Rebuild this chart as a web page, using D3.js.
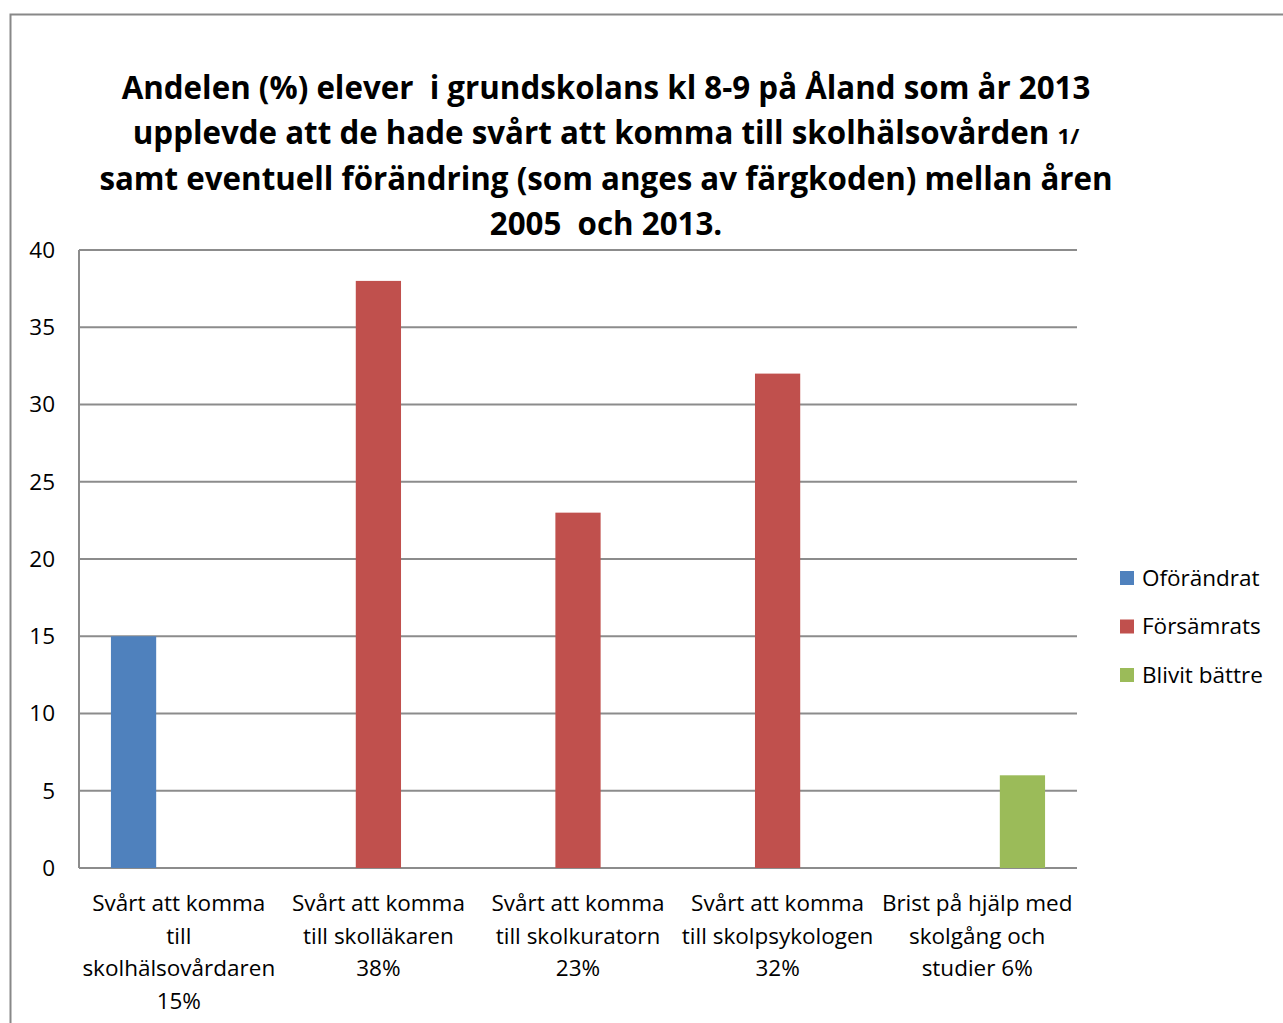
<!DOCTYPE html>
<html><head><meta charset="utf-8">
<script src="https://cdn.jsdelivr.net/npm/d3@7"></script>
<style>
html,body{margin:0;padding:0;background:#fff;}
svg{display:block;}
text{font-family:"Open Sans",Lato,sans-serif;fill:#000;white-space:pre;}
</style></head>
<body>
<svg id="chart" width="1283" height="1023"></svg>
<script>
const categories = [
  "Svårt att komma\ntill\nskolhälsovårdaren\n15%",
  "Svårt att komma\ntill skolläkaren\n38%",
  "Svårt att komma\ntill skolkuratorn\n23%",
  "Svårt att komma\ntill skolpsykologen\n32%",
  "Brist på hjälp med\nskolgång och\nstudier 6%"
];
const seriesNames = ["Oförändrat", "Försämrats", "Blivit bättre"];
const oforandrat = [15, 0, 0, 0, 0];
const forsamrats = [0, 38, 23, 32, 0];
const blivitBattre = [0, 0, 0, 0, 6];
const seriesColors = ["#4F81BD", "#C0504D", "#9BBB59"];
const yTicks = [0, 5, 10, 15, 20, 25, 30, 35, 40];
const titleLines = [
  ["Andelen (%) elever  i grundskolans kl 8-9 på Åland som år 2013", ""],
  ["upplevde att de hade svårt att komma till skolhälsovården ", "1/"],
  ["samt eventuell förändring (som anges av färgkoden) mellan åren", ""],
  ["2005  och 2013.", ""]
];

const seriesValues = [oforandrat, forsamrats, blivitBattre];
const svg = d3.select("#chart");

// outer frame
svg.append("path").attr("d", "M10.5,1023 L10.5,14.5 L1283,14.5")
  .attr("fill", "none").attr("stroke", "#888").attr("stroke-width", 2);

const plot = {left: 79, right: 1077, top: 250, bottom: 868};
const x0 = d3.scaleBand().domain(categories).range([plot.left, plot.right])
  .paddingInner(0.32).paddingOuter(0.16);
const x1 = d3.scaleBand().domain(seriesNames).range([0, x0.bandwidth()]);
const y = d3.scaleLinear().domain([0, 40]).range([plot.bottom, plot.top]);

// gridlines
svg.append("g").selectAll("line").data(yTicks).join("line")
  .attr("x1", plot.left).attr("x2", plot.right)
  .attr("y1", d => y(d)).attr("y2", d => y(d))
  .attr("stroke", "#8c8c8c").attr("stroke-width", 2);

// y axis line
svg.append("line").attr("x1", plot.left).attr("x2", plot.left)
  .attr("y1", plot.top).attr("y2", plot.bottom)
  .attr("stroke", "#8c8c8c").attr("stroke-width", 2);

// y tick labels
svg.append("g").selectAll("text").data(yTicks).join("text")
  .attr("x", 55).attr("y", d => y(d)).attr("dy", "0.35em")
  .attr("text-anchor", "end").style("font-size", "22.5px")
  .text(d => d);

// bars
const data = [];
categories.forEach((c, i) => seriesNames.forEach((s, j) => {
  data.push({cat: c, series: s, value: seriesValues[j][i], color: seriesColors[j]});
}));
svg.append("g").selectAll("rect").data(data.filter(d => d.value > 0)).join("rect")
  .attr("x", d => x0(d.cat) + x1(d.series))
  .attr("width", x1.bandwidth())
  .attr("y", d => y(d.value))
  .attr("height", d => y(0) - y(d.value))
  .attr("fill", d => d.color);

// category labels
const catG = svg.append("g").selectAll("text").data(categories).join("text")
  .attr("text-anchor", "middle").style("font-size", "22.5px");
catG.each(function(d) {
  const t = d3.select(this);
  d.split("\n").forEach((line, k) => {
    t.append("tspan").attr("x", x0(d) + x0.bandwidth() / 2)
      .attr("y", 911 + k * 32.5).text(line);
  });
});

// title
const title = svg.append("g");
titleLines.forEach((ln, k) => {
  const t = title.append("text").attr("x", 606).attr("y", 99 + k * 45.3)
    .attr("text-anchor", "middle").style("font-weight", "bold").style("font-size", "31.3px");
  t.append("tspan").text(ln[0]);
  if (ln[1]) t.append("tspan").style("font-size", "22px").text(ln[1]);
});

// legend
const leg = svg.append("g").selectAll("g").data(seriesNames).join("g")
  .attr("transform", (d, i) => `translate(1120, ${578 + i * 48.5})`);
leg.append("rect").attr("x", 0).attr("y", -7).attr("width", 14).attr("height", 14)
  .attr("fill", (d, i) => seriesColors[i]);
leg.append("text").attr("x", 22).attr("y", 0).attr("dy", "0.35em")
  .style("font-size", "22.5px").text(d => d);
</script>
</body></html>
